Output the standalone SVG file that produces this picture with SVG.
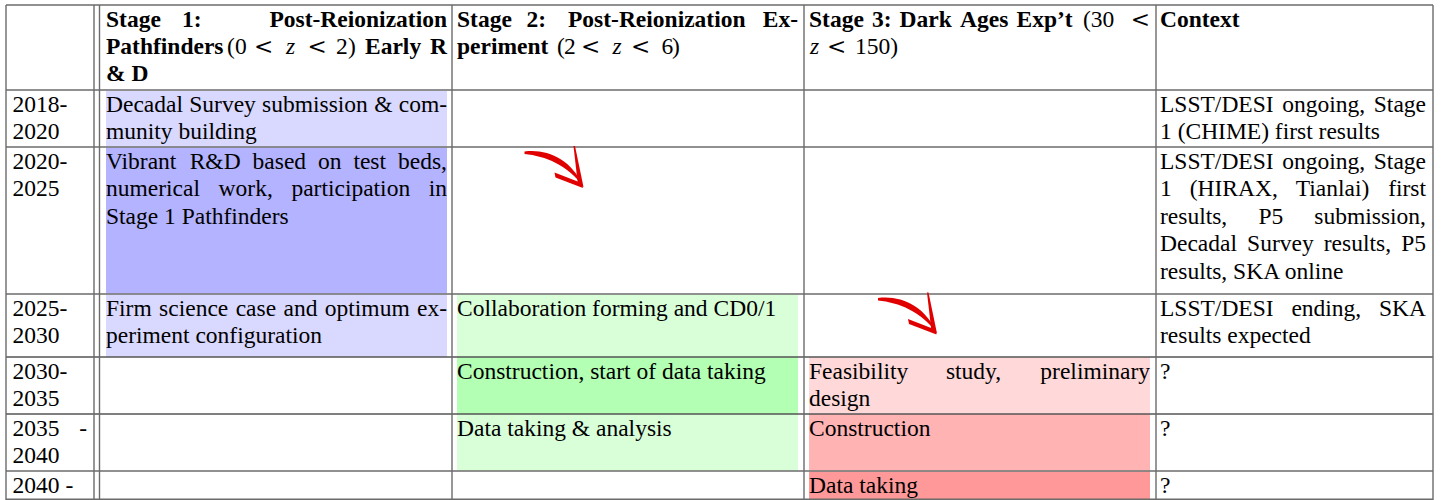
<svg xmlns="http://www.w3.org/2000/svg" width="1448" height="500" viewBox="0 0 1448 500">
<style>
.t{font-family:"Liberation Serif","Times New Roman",serif;font-size:23.5px;fill:#000}
.b{font-weight:bold}
.i{font-style:italic}
.e{text-anchor:end}
.lt{font-family:"DejaVu Serif","Liberation Serif",serif;font-size:23px;font-weight:normal;font-style:normal}
.g{stroke:#6b6b6b;stroke-width:1.4;fill:none}
.k{stroke:#000;stroke-width:1.2;fill:none}
.red{fill:#e00000}
</style>
<defs>
<g id="redArrow">
<path class="red" d="M -57,-35.5 C -35,-38.5 -10,-28 1.5,-1 C -14,-22 -36,-31 -57,-33 Z"/>
<path class="red" d="M -27,-14.5 L 0,-4 L 1.5,1 L -26,-9.5 Z"/>
<path class="red" d="M -8,-41 L -6.5,-41 L 2,0 L -3.5,-1.5 Z"/>
</g>
</defs>
<rect x="0" y="0" width="1448" height="500" fill="#fff"/>

<g id="fills">
<rect x="106" y="91" width="341" height="55.5" fill="#d9d9ff"/>
<rect x="106" y="147.5" width="341" height="146" fill="#b3b3ff"/>
<rect x="106" y="294.5" width="341" height="62" fill="#d9d9ff"/>
<rect x="457" y="294.5" width="341" height="62" fill="#d9ffd9"/>
<rect x="457" y="357.5" width="341" height="56" fill="#b3ffb3"/>
<rect x="457" y="414.5" width="341" height="56" fill="#d9ffd9"/>
<rect x="809" y="357.5" width="341" height="56" fill="#ffd9d9"/>
<rect x="809" y="414.5" width="341" height="56" fill="#ffb3b3"/>
<rect x="809" y="471.5" width="341" height="28.5" fill="#ff9999"/>
</g>

<g id="grid">
<line class="g" x1="6" y1="5" x2="1433" y2="5"/>
<line class="g" x1="6" y1="90" x2="1433" y2="90"/>
<line class="g" x1="6" y1="147" x2="1433" y2="147"/>
<line class="g" x1="6" y1="294" x2="1433" y2="294"/>
<line class="k" x1="6" y1="357" x2="1433" y2="357"/>
<line class="k" x1="6" y1="414" x2="1433" y2="414"/>
<line class="g" x1="6" y1="471" x2="1433" y2="471"/>
<line class="g" x1="6" y1="499.3" x2="1433" y2="499.3"/>
<line class="g" x1="6" y1="5" x2="6" y2="500"/>
<line class="g" x1="94" y1="5" x2="94" y2="500"/>
<line class="g" x1="99.5" y1="5" x2="99.5" y2="500"/>
<line class="g" x1="452" y1="5" x2="452" y2="500"/>
<line class="g" x1="804" y1="5" x2="804" y2="500"/>
<line class="g" x1="1156" y1="5" x2="1156" y2="500"/>
<line class="g" x1="1433" y1="5" x2="1433" y2="500"/>
</g>

<g id="header-stage1">
<text class="t b" y="27"><tspan x="106">Stage</tspan><tspan x="182">1:</tspan></text>
<text class="t b e" x="447" y="27">Post-Reionization</text>
<text class="t b" x="106" y="54">Pathfinders</text>
<text class="t" y="54"><tspan x="227">(</tspan><tspan x="235">0</tspan><tspan x="254" class="lt">&lt;</tspan><tspan x="286" class="i">z</tspan><tspan x="307.5" class="lt">&lt;</tspan><tspan x="336">2</tspan><tspan x="348">)</tspan></text>
<text class="t b" x="365" y="54">Early</text>
<text class="t b e" x="447" y="54">R</text>
<text class="t b" x="106" y="80.5">&amp; D</text>
</g>

<g id="header-stage2">
<text class="t b" y="27"><tspan x="457">Stage</tspan><tspan x="526.5">2:</tspan><tspan x="568">Post-Reionization</tspan></text>
<text class="t b e" x="798" y="27">Ex-</text>
<text class="t b" x="457" y="54">periment</text>
<text class="t" y="54"><tspan x="557">(</tspan><tspan x="564">2</tspan><tspan x="581" class="lt">&lt;</tspan><tspan x="612.5" class="i">z</tspan><tspan x="631" class="lt">&lt;</tspan><tspan x="661.5">6</tspan><tspan x="672">)</tspan></text>
</g>

<g id="header-stage3">
<text class="t b" y="27"><tspan x="809">Stage</tspan><tspan x="872">3:</tspan><tspan x="899.5">Dark</tspan><tspan x="960">Ages</tspan><tspan x="1016.5">Exp’t</tspan></text>
<text class="t" x="1083" y="27">(30</text>
<text class="t lt e" x="1150" y="27">&lt;</text>
<text class="t" y="54"><tspan x="810" class="i">z</tspan><tspan x="827" class="lt">&lt;</tspan><tspan x="855">150)</tspan></text>
</g>

<g id="header-context">
<text class="t b" x="1160" y="27">Context</text>
</g>

<g id="years">
<text class="t" x="12.5" y="111.5">2018-</text>
<text class="t" x="12.5" y="139">2020</text>
<text class="t" x="12.5" y="168.5">2020-</text>
<text class="t" x="12.5" y="196">2025</text>
<text class="t" x="12.5" y="315.5">2025-</text>
<text class="t" x="12.5" y="343">2030</text>
<text class="t" x="12.5" y="378.5">2030-</text>
<text class="t" x="12.5" y="406">2035</text>
<text class="t" x="12.5" y="435.5">2035</text>
<text class="t e" x="87" y="435.5">-</text>
<text class="t" x="12.5" y="463">2040</text>
<text class="t" x="12.5" y="492.5">2040 -</text>
</g>

<g id="cell-s1-2018">
<text class="t" y="111.5"><tspan x="106">Decadal</tspan><tspan x="189.3">Survey</tspan><tspan x="262.1">submission</tspan><tspan x="374.2">&amp;</tspan></text>
<text class="t e" x="447" y="111.5">com-</text>
<text class="t" x="106" y="139">munity building</text>
</g>

<g id="cell-s1-2020">
<text class="t" y="168.5"><tspan x="106">Vibrant</tspan><tspan x="189.7">R&amp;D</tspan><tspan x="252.6">based</tspan><tspan x="318">on</tspan><tspan x="353.4">test</tspan></text>
<text class="t e" x="447" y="168.5">beds,</text>
<text class="t" y="196"><tspan x="106">numerical</tspan><tspan x="218.6">work,</tspan><tspan x="291.4">participation</tspan></text>
<text class="t e" x="447" y="196">in</text>
<text class="t" x="106" y="223.5">Stage 1 Pathfinders</text>
</g>

<g id="cell-s1-2025">
<text class="t" y="315.5"><tspan x="106">Firm</tspan><tspan x="159.1">science</tspan><tspan x="235.7">case</tspan><tspan x="283.5">and</tspan><tspan x="324.8">optimum</tspan></text>
<text class="t e" x="447" y="315.5">ex-</text>
<text class="t" x="106" y="343">periment configuration</text>
</g>

<g id="cell-s2-2025">
<text class="t" x="457" y="315.5">Collaboration forming and CD0/1</text>
</g>
<g id="cell-s2-2030">
<text class="t" x="457" y="378.5">Construction, start of data taking</text>
</g>
<g id="cell-s2-2035">
<text class="t" x="457" y="435.5">Data taking &amp; analysis</text>
</g>

<g id="cell-s3-2030">
<text class="t" y="378.5"><tspan x="809">Feasibility</tspan><tspan x="945.9">study,</tspan></text>
<text class="t e" x="1150" y="378.5">preliminary</text>
<text class="t" x="809" y="406">design</text>
</g>
<g id="cell-s3-2035">
<text class="t" x="809" y="435.5">Construction</text>
</g>
<g id="cell-s3-2040">
<text class="t" x="809" y="492.5">Data taking</text>
</g>

<g id="ctx-2018">
<text class="t" y="111.5"><tspan x="1160">LSST/DESI</tspan><tspan x="1282.3">ongoing,</tspan></text>
<text class="t e" x="1426" y="111.5">Stage</text>
<text class="t" x="1160" y="139">1 (CHIME) first results</text>
</g>

<g id="ctx-2020">
<text class="t" y="168.5"><tspan x="1160">LSST/DESI</tspan><tspan x="1282.3">ongoing,</tspan></text>
<text class="t e" x="1426" y="168.5">Stage</text>
<text class="t" y="196"><tspan x="1160">1</tspan><tspan x="1189.7">(HIRAX,</tspan><tspan x="1295.7">Tianlai)</tspan></text>
<text class="t e" x="1426" y="196">first</text>
<text class="t" y="223.5"><tspan x="1160">results,</tspan><tspan x="1258.4">P5</tspan></text>
<text class="t e" x="1426" y="223.5">submission,</text>
<text class="t" y="251"><tspan x="1160">Decadal</tspan><tspan x="1247.1">Survey</tspan><tspan x="1323.8">results,</tspan></text>
<text class="t e" x="1426" y="251">P5</text>
<text class="t" x="1160" y="278.5">results, SKA online</text>
</g>

<g id="ctx-2025">
<text class="t" y="315.5"><tspan x="1160">LSST/DESI</tspan><tspan x="1291.4">ending,</tspan></text>
<text class="t e" x="1426" y="315.5">SKA</text>
<text class="t" x="1160" y="343">results expected</text>
</g>

<g id="ctx-2030"><text class="t" x="1160" y="378.5">?</text></g>
<g id="ctx-2035"><text class="t" x="1160" y="435.5">?</text></g>
<g id="ctx-2040"><text class="t" x="1160" y="492.5">?</text></g>

<g id="connectors">
<use href="#redArrow" transform="translate(581.5,187)"/>
<use href="#redArrow" transform="translate(935,333.5)"/>
</g>
</svg>
